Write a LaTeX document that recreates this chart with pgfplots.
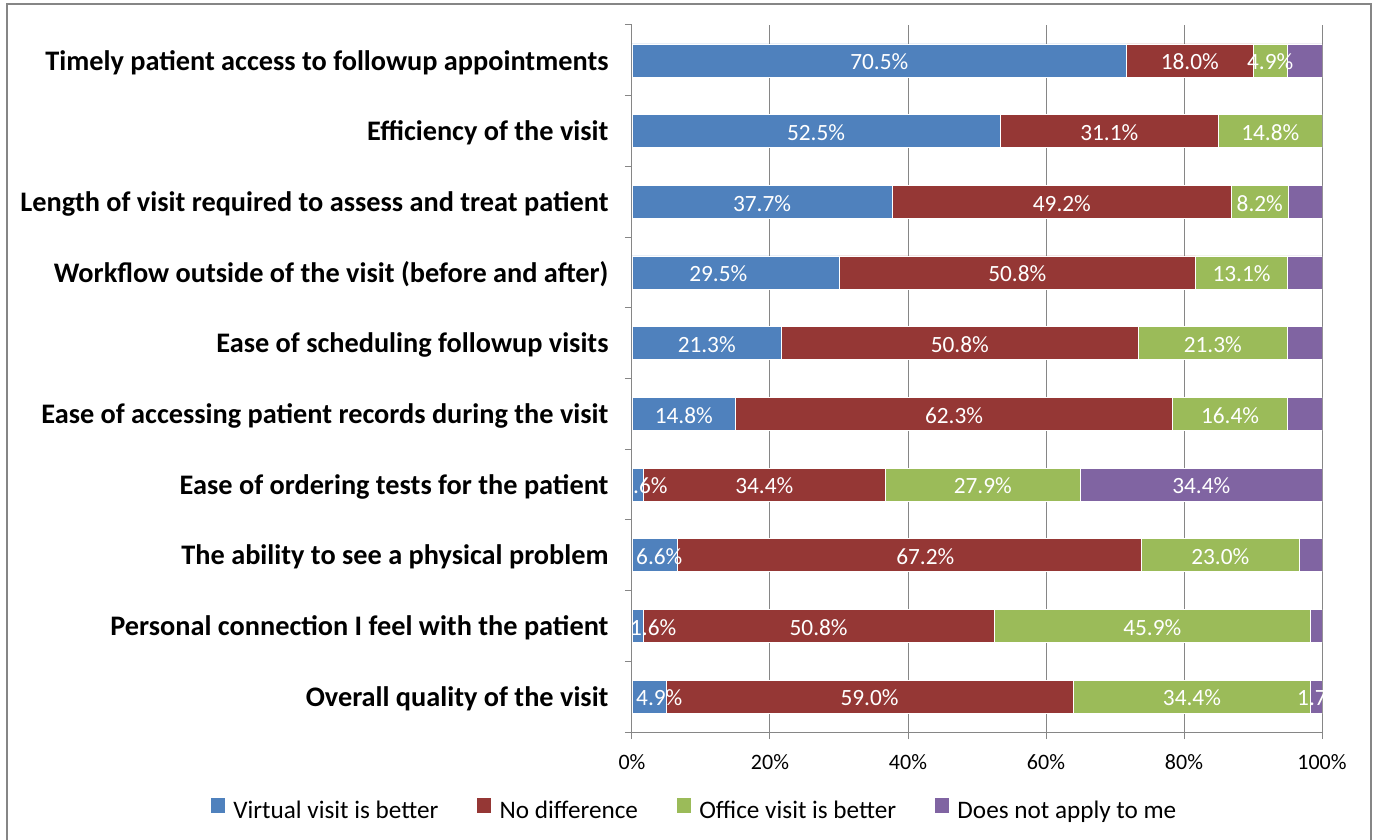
\documentclass[border=0pt]{standalone}
\usepackage{pgfplots}
\pgfplotsset{compat=1.18}
\usepackage{fontspec}
\setmainfont{Carlito}
\definecolor{cblue}{HTML}{4F81BD}
\definecolor{cred}{HTML}{953735}
\definecolor{cgreen}{HTML}{9BBB59}
\definecolor{cpurple}{HTML}{8064A2}
\definecolor{gridgray}{HTML}{868686}
\newcommand{\catfont}{\bfseries\fontsize{28.3}{32}\selectfont}
\newcommand{\lblfont}{\fontsize{23.3}{27}\selectfont}
\newcommand{\tickfont}{\fontsize{22}{25}\selectfont}
\newcommand{\legfont}{\fontsize{25.2}{28}\selectfont}
\begin{document}
\begin{tikzpicture}[x=1pt,y=1pt]
\path[use as bounding box] (0,0) rectangle (1377,839);
\draw[gridgray, line width=1.2pt] (7,-3) -- (7,835) -- (1371,835) -- (1371,-3);
\begin{axis}[
  at={(632pt,107pt)}, anchor=south west,
  scale only axis, width=690pt, height=707pt,
  xbar stacked, bar width=33pt,
  xmin=0, xmax=100, ymin=-0.5, ymax=9.5,
  axis lines*=left,
  axis line style={draw=gridgray, line width=1pt},
  xtick={0,20,40,60,80,100},
  xticklabels={0\%,20\%,40\%,60\%,80\%,100\%},
  xticklabel style={font=\tickfont, text=black, yshift=-19pt},
  minor xtick={0,20,40,60,80,100},
  xmajorgrids, grid style={draw=gridgray, line width=1pt},
  tick align=outside, major tick length=0pt, minor tick length=7pt,
  tick style={draw=gridgray, line width=1pt},
  ytick={0,1,2,3,4,5,6,7,8,9},
  yticklabels={Overall quality of the visit\hspace{8pt},Personal connection I feel with the patient,The ability to see a physical problem,Ease of ordering tests for the patient,Ease of accessing patient records during the visit,Ease of scheduling followup visits,Workflow outside of the visit (before and after),Length of visit required to assess and treat patient,Efficiency of the visit,Timely patient access to followup appointments},
  yticklabel style={font=\catfont, anchor=east, xshift=-20pt, yshift=-2pt, text=black},
  minor ytick={-0.5,0.5,...,9.5},
  legend columns=4,
  legend style={at={(-0.6101,-0.1089)}, anchor=west, draw=none, fill=none,
     inner sep=0pt, outer sep=0pt, font=\legfont,
     nodes={inner sep=0pt},
     /tikz/every even column/.append style={column sep=39pt}},
  legend image code/.code={\fill[#1,draw=none] (0pt,-3pt) rectangle (14pt,12pt); \path (22pt,0pt);},
]
\addplot[fill=cblue, draw=white, line width=0.6pt] coordinates {
 (4.918,0) (1.639,1) (6.557,2) (1.667,3) (15.000,4) (21.667,5) (30.000,6) (37.705,7) (53.333,8) (71.667,9)};
\addplot[fill=cred, draw=white, line width=0.6pt] coordinates {
 (59.016,0) (50.820,1) (67.213,2) (35.000,3) (63.333,4) (51.667,5) (51.667,6) (49.180,7) (31.667,8) (18.333,9)};
\addplot[fill=cgreen, draw=white, line width=0.6pt] coordinates {
 (34.426,0) (45.902,1) (22.951,2) (28.333,3) (16.667,4) (21.667,5) (13.333,6) (8.197,7) (15.000,8) (5.000,9)};
\addplot[fill=cpurple, draw=white, line width=0.6pt] coordinates {
 (1.639,0) (1.639,1) (3.279,2) (35.000,3) (5.000,4) (5.000,5) (5.000,6) (4.918,7) (0,8) (5.000,9)};
\legend{Virtual visit is better, No difference, Office visit is better, Does not apply to me}
\end{axis}
\begin{axis}[
  at={(632pt,107pt)}, anchor=south west,
  scale only axis, width=690pt, height=707pt,
  xmin=0, xmax=100, ymin=-0.5, ymax=9.5,
  hide axis, clip=false,
]
\addplot[draw=none, nodes near coords, point meta=explicit symbolic,
  every node near coord/.style={anchor=center, text=white, font=\lblfont, yshift=-1.5pt}]
 coordinates {
 (35.83,9) [70.5\%] (80.83,9) [18.0\%] (92.5,9) [4.9\%]
 (26.67,8) [52.5\%] (69.17,8) [31.1\%] (92.5,8) [14.8\%]
 (18.85,7) [37.7\%] (62.30,7) [49.2\%] (90.98,7) [8.2\%]
 (12.5,6) [29.5\%] (55.83,6) [50.8\%] (88.33,6) [13.1\%]
 (10.83,5) [21.3\%] (47.5,5) [50.8\%] (84.17,5) [21.3\%]
 (7.5,4) [14.8\%] (46.67,4) [62.3\%] (86.67,4) [16.4\%]
 (19.17,3) [34.4\%] (50.83,3) [27.9\%] (82.5,3) [34.4\%]
 (42.5,2) [67.2\%] (85.25,2) [23.0\%]
 (27.05,1) [50.8\%] (75.41,1) [45.9\%]
 (34.43,0) [59.0\%] (81.15,0) [34.4\%]
 };
\addplot[draw=none, nodes near coords, point meta=explicit symbolic,
  every node near coord/.style={anchor=west, inner sep=0pt, text=white, font=\lblfont, yshift=-1.5pt}]
 coordinates {
 (0.15,3) [.6\%] (0.58,2) [6.6\%] (-0.3,1) [1.6\%] (0.58,0) [4.9\%] (96.38,0) [1.7]
 };
\end{axis}
\end{tikzpicture}
\end{document}
